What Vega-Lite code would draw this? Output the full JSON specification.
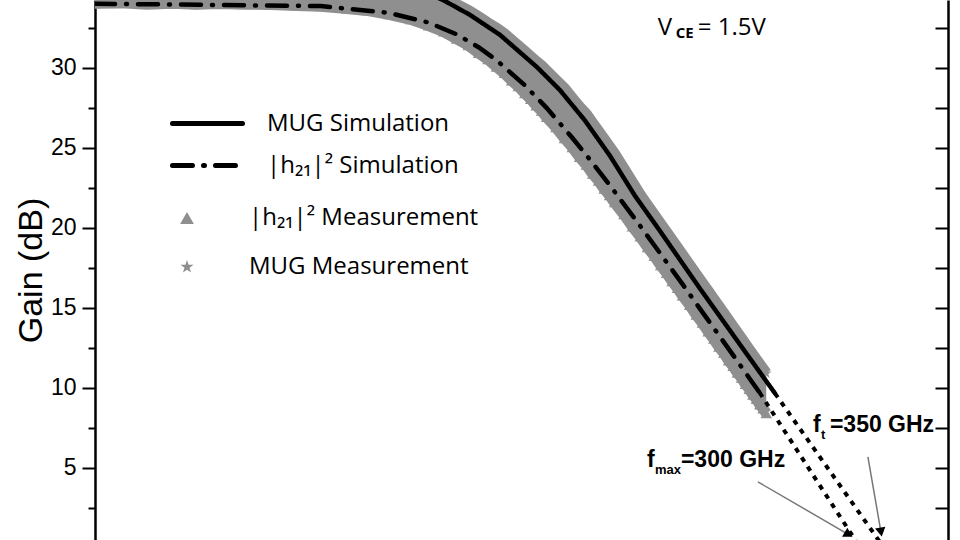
{
  "$schema": "https://vega.github.io/schema/vega-lite/v6.json",
  "width": 853,
  "height": 540,
  "autosize": {"type": "none"},
  "padding": {"left": 95, "top": 0, "right": 12, "bottom": 0},
  "background": "white",
  "config": {
    "view": {"stroke": null},
    "legend": {"padding": 0, "titlePadding": 0, "labelFont": "Open Sans", "labelFontSize": 24, "labelColor": "black", "labelLimit": 400}
  },
  "datasets": {
    "meas": [
      {"f": 0.1, "h": 34.02, "m": 36.35}, {"f": 0.13, "h": 34.05, "m": 36.33}, {"f": 0.17, "h": 33.97, "m": 36.32},
      {"f": 0.22, "h": 34.03, "m": 36.3}, {"f": 0.28, "h": 33.96, "m": 36.3}, {"f": 0.36, "h": 34.01, "m": 36.28},
      {"f": 0.46, "h": 33.97, "m": 36.26}, {"f": 0.6, "h": 33.95, "m": 36.24}, {"f": 0.78, "h": 33.88, "m": 36.2},
      {"f": 1.0, "h": 33.84, "m": 36.15}, {"f": 1.3, "h": 33.7, "m": 36.0}, {"f": 1.6, "h": 33.58, "m": 35.85},
      {"f": 2.0, "h": 33.33, "m": 35.6}, {"f": 2.5, "h": 33.02, "m": 35.15}, {"f": 3.0, "h": 32.63, "m": 34.77},
      {"f": 3.5, "h": 32.25, "m": 34.41}, {"f": 4.0, "h": 31.8, "m": 33.96}, {"f": 4.5, "h": 31.4, "m": 33.58},
      {"f": 5.0, "h": 30.92, "m": 33.19}, {"f": 5.5, "h": 30.52, "m": 32.8}, {"f": 6.0, "h": 30.05, "m": 32.48},
      {"f": 6.5, "h": 29.66, "m": 32.13}, {"f": 7.0, "h": 29.2, "m": 31.74}, {"f": 7.5, "h": 28.83, "m": 31.38},
      {"f": 8.0, "h": 28.4, "m": 31.03}, {"f": 8.5, "h": 28.04, "m": 30.71}, {"f": 9.0, "h": 27.63, "m": 30.4},
      {"f": 9.5, "h": 27.3, "m": 30.13}, {"f": 10, "h": 26.91, "m": 29.81}, {"f": 11, "h": 26.27, "m": 29.23},
      {"f": 12, "h": 25.59, "m": 28.71}, {"f": 13, "h": 25.03, "m": 28.11}, {"f": 14, "h": 24.42, "m": 27.56},
      {"f": 15, "h": 23.93, "m": 27.11}, {"f": 16, "h": 23.37, "m": 26.55}, {"f": 17, "h": 22.93, "m": 26.03},
      {"f": 18, "h": 22.43, "m": 25.54}, {"f": 19, "h": 22.03, "m": 25.08}, {"f": 20, "h": 21.58, "m": 24.64},
      {"f": 22, "h": 20.83, "m": 23.71}, {"f": 24, "h": 20.07, "m": 22.85}, {"f": 26, "h": 19.44, "m": 22.06},
      {"f": 28, "h": 18.78, "m": 21.41}, {"f": 30, "h": 18.23, "m": 20.81}, {"f": 32, "h": 17.65, "m": 20.25},
      {"f": 34, "h": 17.17, "m": 19.73}, {"f": 36, "h": 16.65, "m": 19.23}, {"f": 38, "h": 16.23, "m": 18.76},
      {"f": 40, "h": 15.75, "m": 18.31}, {"f": 43, "h": 15.17, "m": 17.69}, {"f": 46, "h": 14.55, "m": 17.1},
      {"f": 49, "h": 14.05, "m": 16.55}, {"f": 52, "h": 13.5, "m": 16.04}, {"f": 55, "h": 13.05, "m": 15.55},
      {"f": 58, "h": 12.55, "m": 15.09}, {"f": 61, "h": 12.16, "m": 14.65}, {"f": 64, "h": 11.7, "m": 14.23},
      {"f": 67, "h": 11.35, "m": 13.83}, {"f": 70, "h": 10.93, "m": 13.45}, {"f": 73, "h": 10.61, "m": 13.09},
      {"f": 76, "h": 10.22, "m": 12.74}, {"f": 79, "h": 9.92, "m": 12.4}, {"f": 82, "h": 9.56, "m": 12.08},
      {"f": 85, "h": 9.29, "m": 11.77}, {"f": 88, "h": 8.95, "m": 11.47}, {"f": 91, "h": 8.7, "m": 11.18},
      {"f": 94, "h": 8.4, "m": 10.9}
    ],
    "sim": [
      {"s": "MUG Simulation", "f": 0.1, "g": 36.3}, {"s": "MUG Simulation", "f": 1, "g": 36.1},
      {"s": "MUG Simulation", "f": 2, "g": 35.5}, {"s": "MUG Simulation", "f": 2.8, "g": 34.8},
      {"s": "MUG Simulation", "f": 3.48, "g": 34.23}, {"s": "MUG Simulation", "f": 4.58, "g": 33.3},
      {"s": "MUG Simulation", "f": 6.22, "g": 32.05}, {"s": "MUG Simulation", "f": 9.06, "g": 30.04},
      {"s": "MUG Simulation", "f": 11.46, "g": 28.6}, {"s": "MUG Simulation", "f": 14.79, "g": 26.7},
      {"s": "MUG Simulation", "f": 19.08, "g": 24.5}, {"s": "MUG Simulation", "f": 24.62, "g": 22.0},
      {"s": "MUG Simulation", "f": 31.78, "g": 19.8}, {"s": "MUG Simulation", "f": 47.79, "g": 16.2},
      {"s": "MUG Simulation", "f": 71.89, "g": 12.7}, {"s": "MUG Simulation", "f": 102.7, "g": 9.65},
      {"s": "|h₂₁|² Simulation", "f": 0.1, "g": 34.0}, {"s": "|h₂₁|² Simulation", "f": 1, "g": 33.85},
      {"s": "|h₂₁|² Simulation", "f": 2, "g": 33.43}, {"s": "|h₂₁|² Simulation", "f": 3, "g": 32.82},
      {"s": "|h₂₁|² Simulation", "f": 4, "g": 32.08}, {"s": "|h₂₁|² Simulation", "f": 5, "g": 31.28},
      {"s": "|h₂₁|² Simulation", "f": 6, "g": 30.47}, {"s": "|h₂₁|² Simulation", "f": 8, "g": 28.91},
      {"s": "|h₂₁|² Simulation", "f": 10, "g": 27.49}, {"s": "|h₂₁|² Simulation", "f": 13, "g": 25.62},
      {"s": "|h₂₁|² Simulation", "f": 16, "g": 24.04}, {"s": "|h₂₁|² Simulation", "f": 20, "g": 22.26},
      {"s": "|h₂₁|² Simulation", "f": 25, "g": 20.43}, {"s": "|h₂₁|² Simulation", "f": 30, "g": 18.9},
      {"s": "|h₂₁|² Simulation", "f": 40, "g": 16.47}, {"s": "|h₂₁|² Simulation", "f": 50, "g": 14.55},
      {"s": "|h₂₁|² Simulation", "f": 60, "g": 12.99}, {"s": "|h₂₁|² Simulation", "f": 70, "g": 11.66},
      {"s": "|h₂₁|² Simulation", "f": 80, "g": 10.5}, {"s": "|h₂₁|² Simulation", "f": 88, "g": 9.68}
    ],
    "ext": [
      {"e": "mug", "f": 102.7, "g": 9.65}, {"e": "mug", "f": 312, "g": 0},
      {"e": "h21", "f": 88, "g": 9.68}, {"e": "h21", "f": 245, "g": 0}
    ]
  },
  "resolve": {"axis": {"y": "independent"}},
  "layer": [
    {
      "data": {"name": "meas"},
      "mark": {"type": "area", "color": "#8f8f8f", "clip": true},
      "encoding": {
        "x": {"field": "f", "type": "quantitative", "scale": {"type": "log", "domain": [0.1, 600], "nice": false}, "axis": null},
        "y": {
          "field": "h", "type": "quantitative",
          "scale": {"domain": [0.48, 34.23], "nice": false, "zero": false},
          "axis": {
            "orient": "left",
            "title": "Gain (dB)", "titleFont": "Liberation Sans", "titleFontSize": 34, "titleFontWeight": "normal", "titleColor": "black", "titlePadding": 2,
            "values": [0, 2.5, 5, 7.5, 10, 12.5, 15, 17.5, 20, 22.5, 25, 27.5, 30, 32.5],
            "format": "d",
            "labelExpr": "datum.value % 5 === 0 ? datum.label : ''",
            "labelFont": "Liberation Sans", "labelFontSize": 23, "labelColor": "black", "labelPadding": 6,
            "tickSize": {"condition": {"test": "datum.value % 5 === 0", "value": 13}, "value": 7},
            "tickColor": "black", "tickWidth": 2,
            "domainColor": "black", "domainWidth": 2.5, "grid": false,
            "encoding": {"labels": {"update": {"fontSize": {"value": 23}, "font": {"value": "Liberation Sans"}}}}
          }
        },
        "y2": {"field": "m"}
      }
    },
    {
      "data": {"name": "meas"},
      "mark": {"type": "line", "color": "#8f8f8f", "strokeWidth": 11, "clip": true},
      "encoding": {
        "x": {"field": "f", "type": "quantitative", "scale": {"type": "log", "domain": [0.1, 600], "nice": false}, "axis": null},
        "y": {
          "field": "h", "type": "quantitative",
          "scale": {"domain": [0.48, 34.23], "nice": false, "zero": false},
          "axis": {
            "orient": "right", "title": null, "labels": false,
            "values": [0, 2.5, 5, 7.5, 10, 12.5, 15, 17.5, 20, 22.5, 25, 27.5, 30, 32.5],
            "tickSize": -13, "tickColor": "black", "tickWidth": 2,
            "domainColor": "black", "domainWidth": 2.5, "grid": false
          }
        }
      }
    },
    {
      "data": {"name": "meas"},
      "mark": {"type": "line", "color": "#8f8f8f", "strokeWidth": 11, "clip": true},
      "encoding": {
        "x": {"field": "f", "type": "quantitative", "scale": {"type": "log", "domain": [0.1, 600], "nice": false}, "axis": null},
        "y": {"field": "m", "type": "quantitative", "scale": {"domain": [0.48, 34.23], "nice": false, "zero": false}, "axis": null}
      }
    },
    {
      "data": {"name": "meas"},
      "transform": [{"fold": ["h", "m"], "as": ["series", "g"]}],
      "mark": {"type": "point", "filled": true, "color": "#8f8f8f", "opacity": 1, "size": 130, "clip": true},
      "encoding": {
        "x": {"field": "f", "type": "quantitative", "scale": {"type": "log", "domain": [0.1, 600], "nice": false}, "axis": null},
        "y": {"field": "g", "type": "quantitative", "scale": {"domain": [0.48, 34.23], "nice": false, "zero": false}, "axis": null},
        "shape": {
          "field": "series", "type": "nominal",
          "scale": {"domain": ["h", "m"], "range": ["triangle-up", "M0,-1L0.2245,-0.309L0.951,-0.309L0.3633,0.118L0.5878,0.809L0,0.382L-0.5878,0.809L-0.3633,0.118L-0.951,-0.309L-0.2245,-0.309Z"]},
          "legend": {
            "title": null, "orient": "none", "legendX": 80, "legendY": 206,
            "labelExpr": "datum.value === 'h' ? '|h₂₁|²  Measurement' : 'MUG Measurement'",
            "symbolFillColor": "#707070", "symbolStrokeWidth": 0, "symbolSize": 190,
            "labelOffset": 50, "rowPadding": 25
          }
        }
      }
    },
    {
      "data": {"name": "sim"},
      "mark": {"type": "line", "color": "black", "strokeWidth": 4.5, "strokeCap": "round", "clip": true},
      "encoding": {
        "x": {"field": "f", "type": "quantitative", "scale": {"type": "log", "domain": [0.1, 600], "nice": false}, "axis": null},
        "y": {"field": "g", "type": "quantitative", "scale": {"domain": [0.48, 34.23], "nice": false, "zero": false}, "axis": null},
        "strokeDash": {
          "field": "s", "type": "nominal",
          "scale": {"domain": ["MUG Simulation", "|h₂₁|² Simulation"], "range": [[1, 0], [20, 11, 1, 11]]},
          "legend": {
            "title": null, "orient": "none", "legendX": 98, "legendY": 109,
            "symbolType": "M-3,0L3,0", "symbolSize": 545, "symbolStrokeWidth": 5, "symbolStrokeColor": "black", "symbolFillColor": "transparent",
            "labelOffset": 45, "rowPadding": 15,
            "symbolDashOffset": 0,
            "encode": {"symbols": {"update": {"strokeCap": {"value": "round"}}}}
          }
        }
      }
    },
    {
      "data": {"name": "ext"},
      "mark": {"type": "line", "color": "black", "strokeWidth": 4, "strokeDash": [5, 6], "clip": true},
      "encoding": {
        "x": {"field": "f", "type": "quantitative", "scale": {"type": "log", "domain": [0.1, 600], "nice": false}, "axis": null},
        "y": {"field": "g", "type": "quantitative", "scale": {"domain": [0.48, 34.23], "nice": false, "zero": false}, "axis": null},
        "detail": {"field": "e", "type": "nominal"}
      }
    },
    {
      "data": {"values": [{}]},
      "mark": {"type": "rule", "color": "#777777", "strokeWidth": 1.5},
      "encoding": {
        "x": {"datum": 86.4, "type": "quantitative", "scale": {"type": "log", "domain": [0.1, 600], "nice": false}, "axis": null},
        "y": {"datum": 4.11, "type": "quantitative", "scale": {"domain": [0.48, 34.23], "nice": false, "zero": false}, "axis": null},
        "x2": {"datum": 217.8},
        "y2": {"datum": 0.82}
      }
    },
    {
      "data": {"values": [{}]},
      "mark": {"type": "point", "shape": "triangle-right", "filled": true, "color": "black", "opacity": 1, "size": 110, "angle": 30},
      "encoding": {
        "x": {"datum": 217.8, "type": "quantitative", "scale": {"type": "log", "domain": [0.1, 600], "nice": false}, "axis": null},
        "y": {"datum": 0.82, "type": "quantitative", "scale": {"domain": [0.48, 34.23], "nice": false, "zero": false}, "axis": null}
      }
    },
    {
      "data": {"values": [{}]},
      "mark": {"type": "rule", "color": "#777777", "strokeWidth": 1.5},
      "encoding": {
        "x": {"datum": 265.1, "type": "quantitative", "scale": {"type": "log", "domain": [0.1, 600], "nice": false}, "axis": null},
        "y": {"datum": 5.67, "type": "quantitative", "scale": {"domain": [0.48, 34.23], "nice": false, "zero": false}, "axis": null},
        "x2": {"datum": 302.9},
        "y2": {"datum": 0.975}
      }
    },
    {
      "data": {"values": [{}]},
      "mark": {"type": "point", "shape": "triangle-right", "filled": true, "color": "black", "opacity": 1, "size": 110, "angle": 80},
      "encoding": {
        "x": {"datum": 302.9, "type": "quantitative", "scale": {"type": "log", "domain": [0.1, 600], "nice": false}, "axis": null},
        "y": {"datum": 0.975, "type": "quantitative", "scale": {"domain": [0.48, 34.23], "nice": false, "zero": false}, "axis": null}
      }
    },
    {
      "data": {"values": [{}]},
      "encoding": {
        "x": {"datum": 31.1, "type": "quantitative", "scale": {"type": "log", "domain": [0.1, 600], "nice": false}, "axis": null},
        "y": {"datum": 32.04, "type": "quantitative", "scale": {"domain": [0.48, 34.23], "nice": false, "zero": false}, "axis": null}
      },
      "layer": [
        {"mark": {"type": "text", "text": "V", "font": "Open Sans", "fontSize": 24, "align": "left", "baseline": "alphabetic", "color": "black"}},
        {"mark": {"type": "text", "text": "CE", "font": "Open Sans", "fontSize": 15, "fontWeight": "bold", "align": "left", "baseline": "alphabetic", "color": "black", "dx": 18, "dy": 3}},
        {"mark": {"type": "text", "text": "= 1.5V", "font": "Open Sans", "fontSize": 24, "align": "left", "baseline": "alphabetic", "color": "black", "dx": 40}}
      ]
    },
    {
      "data": {"values": [{}]},
      "encoding": {
        "x": {"datum": 151.3, "type": "quantitative", "scale": {"type": "log", "domain": [0.1, 600], "nice": false}, "axis": null},
        "y": {"datum": 7.25, "type": "quantitative", "scale": {"domain": [0.48, 34.23], "nice": false, "zero": false}, "axis": null}
      },
      "layer": [
        {"mark": {"type": "text", "text": "f", "font": "Liberation Sans", "fontSize": 23, "fontWeight": "bold", "align": "left", "baseline": "alphabetic", "color": "black"}},
        {"mark": {"type": "text", "text": "t", "font": "Liberation Sans", "fontSize": 13, "fontWeight": "bold", "align": "left", "baseline": "alphabetic", "color": "black", "dx": 8, "dy": 7}},
        {"mark": {"type": "text", "text": "=350 GHz", "font": "Liberation Sans", "fontSize": 23, "fontWeight": "bold", "align": "left", "baseline": "alphabetic", "color": "black", "dx": 17}}
      ]
    },
    {
      "data": {"values": [{}]},
      "encoding": {
        "x": {"datum": 27.84, "type": "quantitative", "scale": {"type": "log", "domain": [0.1, 600], "nice": false}, "axis": null},
        "y": {"datum": 5.06, "type": "quantitative", "scale": {"domain": [0.48, 34.23], "nice": false, "zero": false}, "axis": null}
      },
      "layer": [
        {"mark": {"type": "text", "text": "f", "font": "Liberation Sans", "fontSize": 23, "fontWeight": "bold", "align": "left", "baseline": "alphabetic", "color": "black"}},
        {"mark": {"type": "text", "text": "max", "font": "Liberation Sans", "fontSize": 13, "fontWeight": "bold", "align": "left", "baseline": "alphabetic", "color": "black", "dx": 8, "dy": 7}},
        {"mark": {"type": "text", "text": "=300 GHz", "font": "Liberation Sans", "fontSize": 23, "fontWeight": "bold", "align": "left", "baseline": "alphabetic", "color": "black", "dx": 34}}
      ]
    }
  ]
}
